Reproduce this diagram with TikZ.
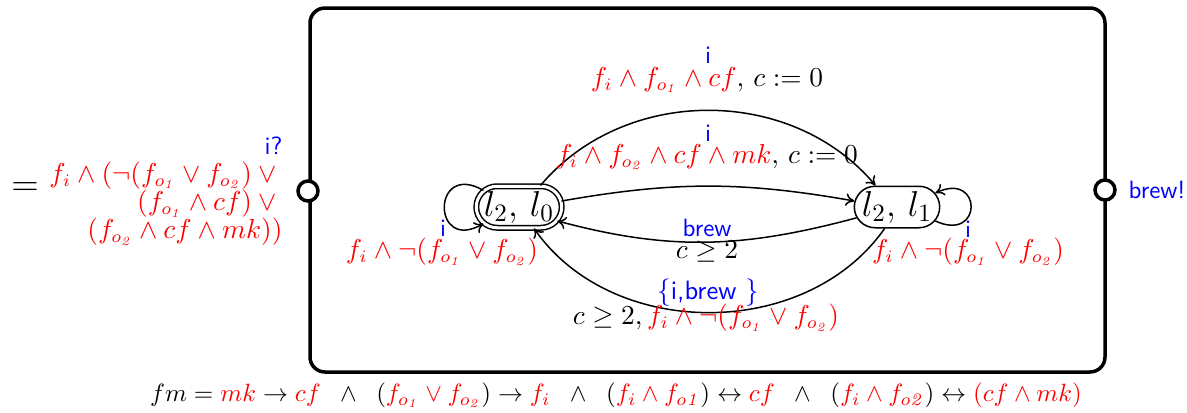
\documentclass[tikz,border=0pt]{standalone}
\usetikzlibrary{shapes.misc,arrows.meta}
\newcommand{\R}[1]{\textcolor{red}{#1}}
\newcommand{\B}[1]{\textcolor{blue}{\fontsize{10}{12}\sffamily #1}}
\newcommand{\foa}{f_{o_{\mathit{1}}}}
\newcommand{\fob}{f_{o_{\mathit{2}}}}
\begin{document}
\begin{tikzpicture}[x=0.4pt,y=-0.4pt,
  every node/.style={font=\fontsize{10.6}{12.7}\selectfont},
  statebox/.style={rounded rectangle, draw, line width=0.6pt, minimum width=31.6pt, minimum height=16.6pt, inner sep=0pt, font=\Large},
  trans/.style={-{To[length=3.5pt,width=5pt]}, line width=0.6pt},
  lbl/.style={inner sep=0pt, align=center},
  port/.style={circle, draw, line width=1.4pt, fill=white, minimum size=8pt, inner sep=0pt}]
\useasboundingbox (0,0) rectangle (1187,413);
\draw[line width=1.4pt, rounded corners=6pt] (310,8) rectangle (1105,372);
\node[port] (pin) at (308,191) {};
\node[port] (pout) at (1105,190) {};
\node[anchor=west, inner sep=0pt] (pout-l) at (1128,190) {\B{brew!}};
\node[inner sep=0pt, font=\Large] (eq) at (25,189) {$=$};
\node[anchor=east, align=right, inner sep=0pt, font=\fontsize{10.6}{11.3}\selectfont] (pin-l) at (283,191)
  {\B{i?}\\ \R{$f_i \wedge (\neg(\foa \vee \fob) \vee{}$}\\ \R{$(\foa \wedge cf) \vee{}$}\\ \R{$(\fob \wedge cf \wedge mk))$}};
\node[statebox, double, double distance=1.2pt] (l20) at (519,207) {$l_2,\,l_0$};
\node[statebox] (l21) at (897,207) {$l_2,\,l_1$};
% edges
\draw[trans] (l20.45) to[out=50,in=130] (l21.135);
\draw[trans] (l20.8) to[out=10,in=170] (l21.172);
\draw[trans] (l21.195) to[out=195,in=-15] (l20.-20);
\draw[trans] (l21.-120) to[out=-125,in=-55] (l20.-55);
\draw[trans] (l20.155) .. controls +(150:24pt) and +(210:24pt) .. (l20.205);
\draw[trans] (l21.-20) .. controls +(-25:21pt) and +(25:21pt) .. (l21.20);
% labels
\node[lbl] (t1a) at (708,55) {\B{i}};
\node[lbl] (t1b) at (707,80) {\R{$f_i \wedge \foa \wedge cf$}$,\, c := 0$};
\node[lbl] (t2a) at (708,133) {\B{i}};
\node[lbl] (t2b) at (707,157) {\R{$f_i \wedge \fob \wedge cf \wedge mk$}$,\, c := 0$};
\node[lbl] (t3a) at (707,228) {\B{brew}};
\node[lbl] (t3b) at (707,252) {$c \geq 2$};
\node[lbl] (t4a) at (708,293) {\textcolor{blue}{$\{$\textsf{i,brew}\ $\}$}};
\node[lbl] (t4b) at (706,318) {$c \geq 2,\,$\R{$f_i \wedge \neg(\foa \vee \fob)$}};
\node[lbl] (t5a) at (443,228) {\B{i}};
\node[lbl] (t5b) at (442,252) {\R{$f_i \wedge \neg(\foa \vee \fob)$}};
\node[lbl] (t6a) at (968,229) {\B{i}};
\node[lbl] (t6b) at (968,252) {\R{$f_i \wedge \neg(\foa \vee \fob)$}};
\node[lbl, font=\fontsize{10.3}{12}\selectfont] (fm) at (616,395) {$fm = \textcolor{red}{mk} \rightarrow \textcolor{red}{cf} \;\;\wedge\;\; (\textcolor{red}{\foa \vee \fob}) \rightarrow \textcolor{red}{f_i} \;\;\wedge\;\; (\textcolor{red}{f_i \wedge f_{o\mathit{1}}}) \leftrightarrow \textcolor{red}{cf} \;\;\wedge\;\; (\textcolor{red}{f_i \wedge f_{o\mathit{2}}}) \leftrightarrow \textcolor{red}{(cf \wedge mk)}$};
\end{tikzpicture}
\end{document}
